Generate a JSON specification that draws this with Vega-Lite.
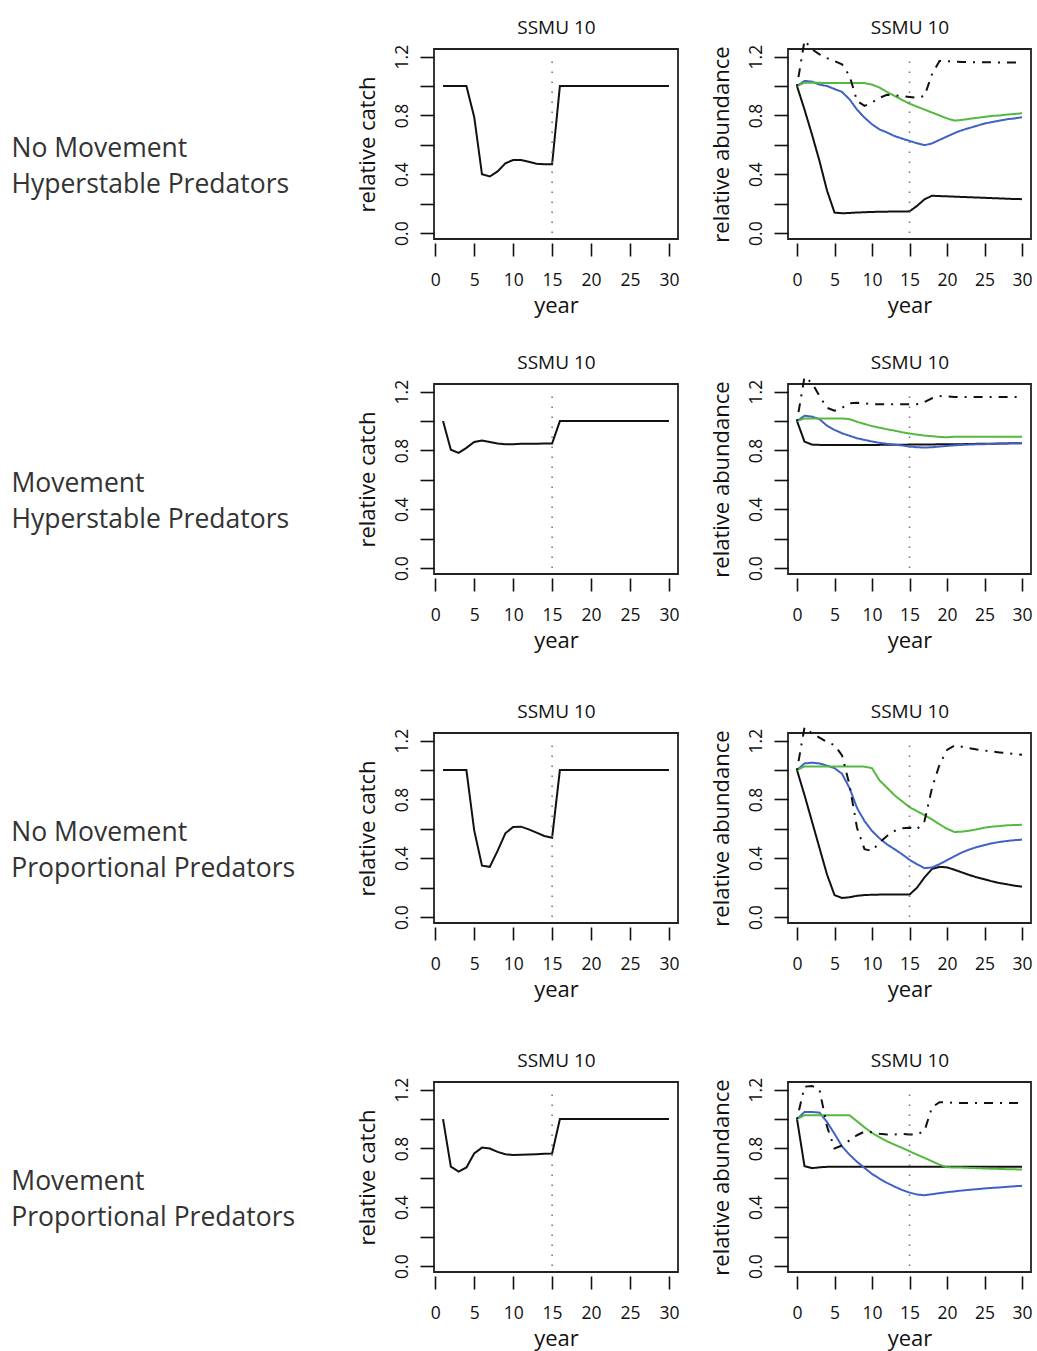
{
 "$schema": "https://vega.github.io/schema/vega-lite/v6.json",
 "padding": {"left": 11, "top": 17, "right": 0, "bottom": 0},
 "background": "white",
 "datasets": {
  "catch": [
   {"row":"r1","year":1,"value":1.0},{"row":"r1","year":2,"value":1.0},{"row":"r1","year":3,"value":1.0},{"row":"r1","year":4,"value":1.0},{"row":"r1","year":5,"value":0.79},{"row":"r1","year":6,"value":0.40},{"row":"r1","year":7,"value":0.385},{"row":"r1","year":8,"value":0.42},{"row":"r1","year":9,"value":0.475},{"row":"r1","year":10,"value":0.497},{"row":"r1","year":11,"value":0.497},{"row":"r1","year":12,"value":0.485},{"row":"r1","year":13,"value":0.472},{"row":"r1","year":14,"value":0.468},{"row":"r1","year":15,"value":0.468},{"row":"r1","year":16,"value":1.0},{"row":"r1","year":17,"value":1.0},{"row":"r1","year":18,"value":1.0},{"row":"r1","year":19,"value":1.0},{"row":"r1","year":20,"value":1.0},{"row":"r1","year":21,"value":1.0},{"row":"r1","year":22,"value":1.0},{"row":"r1","year":23,"value":1.0},{"row":"r1","year":24,"value":1.0},{"row":"r1","year":25,"value":1.0},{"row":"r1","year":26,"value":1.0},{"row":"r1","year":27,"value":1.0},{"row":"r1","year":28,"value":1.0},{"row":"r1","year":29,"value":1.0},{"row":"r1","year":30,"value":1.0},
   {"row":"r2","year":1,"value":1.0},{"row":"r2","year":2,"value":0.805},{"row":"r2","year":3,"value":0.784},{"row":"r2","year":4,"value":0.818},{"row":"r2","year":5,"value":0.858},{"row":"r2","year":6,"value":0.867},{"row":"r2","year":7,"value":0.858},{"row":"r2","year":8,"value":0.848},{"row":"r2","year":9,"value":0.843},{"row":"r2","year":10,"value":0.843},{"row":"r2","year":11,"value":0.845},{"row":"r2","year":12,"value":0.846},{"row":"r2","year":13,"value":0.846},{"row":"r2","year":14,"value":0.847},{"row":"r2","year":15,"value":0.847},{"row":"r2","year":16,"value":1.0},{"row":"r2","year":17,"value":1.0},{"row":"r2","year":18,"value":1.0},{"row":"r2","year":19,"value":1.0},{"row":"r2","year":20,"value":1.0},{"row":"r2","year":21,"value":1.0},{"row":"r2","year":22,"value":1.0},{"row":"r2","year":23,"value":1.0},{"row":"r2","year":24,"value":1.0},{"row":"r2","year":25,"value":1.0},{"row":"r2","year":26,"value":1.0},{"row":"r2","year":27,"value":1.0},{"row":"r2","year":28,"value":1.0},{"row":"r2","year":29,"value":1.0},{"row":"r2","year":30,"value":1.0},
   {"row":"r3","year":1,"value":1.0},{"row":"r3","year":2,"value":1.0},{"row":"r3","year":3,"value":1.0},{"row":"r3","year":4,"value":1.0},{"row":"r3","year":5,"value":0.59},{"row":"r3","year":6,"value":0.35},{"row":"r3","year":7,"value":0.342},{"row":"r3","year":8,"value":0.45},{"row":"r3","year":9,"value":0.57},{"row":"r3","year":10,"value":0.613},{"row":"r3","year":11,"value":0.615},{"row":"r3","year":12,"value":0.597},{"row":"r3","year":13,"value":0.574},{"row":"r3","year":14,"value":0.552},{"row":"r3","year":15,"value":0.54},{"row":"r3","year":16,"value":1.0},{"row":"r3","year":17,"value":1.0},{"row":"r3","year":18,"value":1.0},{"row":"r3","year":19,"value":1.0},{"row":"r3","year":20,"value":1.0},{"row":"r3","year":21,"value":1.0},{"row":"r3","year":22,"value":1.0},{"row":"r3","year":23,"value":1.0},{"row":"r3","year":24,"value":1.0},{"row":"r3","year":25,"value":1.0},{"row":"r3","year":26,"value":1.0},{"row":"r3","year":27,"value":1.0},{"row":"r3","year":28,"value":1.0},{"row":"r3","year":29,"value":1.0},{"row":"r3","year":30,"value":1.0},
   {"row":"r4","year":1,"value":1.0},{"row":"r4","year":2,"value":0.676},{"row":"r4","year":3,"value":0.642},{"row":"r4","year":4,"value":0.671},{"row":"r4","year":5,"value":0.766},{"row":"r4","year":6,"value":0.806},{"row":"r4","year":7,"value":0.80},{"row":"r4","year":8,"value":0.777},{"row":"r4","year":9,"value":0.761},{"row":"r4","year":10,"value":0.755},{"row":"r4","year":11,"value":0.757},{"row":"r4","year":12,"value":0.759},{"row":"r4","year":13,"value":0.761},{"row":"r4","year":14,"value":0.764},{"row":"r4","year":15,"value":0.766},{"row":"r4","year":16,"value":1.0},{"row":"r4","year":17,"value":1.0},{"row":"r4","year":18,"value":1.0},{"row":"r4","year":19,"value":1.0},{"row":"r4","year":20,"value":1.0},{"row":"r4","year":21,"value":1.0},{"row":"r4","year":22,"value":1.0},{"row":"r4","year":23,"value":1.0},{"row":"r4","year":24,"value":1.0},{"row":"r4","year":25,"value":1.0},{"row":"r4","year":26,"value":1.0},{"row":"r4","year":27,"value":1.0},{"row":"r4","year":28,"value":1.0},{"row":"r4","year":29,"value":1.0},{"row":"r4","year":30,"value":1.0}
  ],
  "abund": [
   {"row":"r1","year":0,"s1":1.0,"s2":1.0,"s3":1.0,"s4":1.0},
   {"row":"r1","year":1,"s1":0.84,"s2":1.035,"s3":1.023,"s4":1.31},
   {"row":"r1","year":2,"s1":0.67,"s2":1.03,"s3":1.023,"s4":1.25},
   {"row":"r1","year":3,"s1":0.49,"s2":1.01,"s3":1.022,"s4":1.216},
   {"row":"r1","year":4,"s1":0.29,"s2":1.0,"s3":1.021,"s4":1.19},
   {"row":"r1","year":5,"s1":0.14,"s2":0.98,"s3":1.021,"s4":1.17},
   {"row":"r1","year":6,"s1":0.135,"s2":0.96,"s3":1.02,"s4":1.148},
   {"row":"r1","year":7,"s1":0.137,"s2":0.91,"s3":1.02,"s4":1.07},
   {"row":"r1","year":8,"s1":0.14,"s2":0.84,"s3":1.02,"s4":0.90},
   {"row":"r1","year":9,"s1":0.142,"s2":0.785,"s3":1.02,"s4":0.865},
   {"row":"r1","year":10,"s1":0.144,"s2":0.74,"s3":1.01,"s4":0.888},
   {"row":"r1","year":11,"s1":0.145,"s2":0.705,"s3":0.99,"s4":0.92},
   {"row":"r1","year":12,"s1":0.146,"s2":0.684,"s3":0.96,"s4":0.94},
   {"row":"r1","year":13,"s1":0.147,"s2":0.66,"s3":0.933,"s4":0.937},
   {"row":"r1","year":14,"s1":0.147,"s2":0.643,"s3":0.906,"s4":0.933},
   {"row":"r1","year":15,"s1":0.148,"s2":0.627,"s3":0.88,"s4":0.926},
   {"row":"r1","year":16,"s1":0.185,"s2":0.611,"s3":0.86,"s4":0.92},
   {"row":"r1","year":17,"s1":0.23,"s2":0.598,"s3":0.84,"s4":0.933},
   {"row":"r1","year":18,"s1":0.254,"s2":0.61,"s3":0.82,"s4":1.08},
   {"row":"r1","year":19,"s1":0.252,"s2":0.634,"s3":0.80,"s4":1.17},
   {"row":"r1","year":20,"s1":0.25,"s2":0.657,"s3":0.78,"s4":1.17},
   {"row":"r1","year":21,"s1":0.248,"s2":0.68,"s3":0.765,"s4":1.166},
   {"row":"r1","year":22,"s1":0.246,"s2":0.70,"s3":0.77,"s4":1.164},
   {"row":"r1","year":23,"s1":0.244,"s2":0.715,"s3":0.777,"s4":1.163},
   {"row":"r1","year":24,"s1":0.242,"s2":0.73,"s3":0.784,"s4":1.162},
   {"row":"r1","year":25,"s1":0.24,"s2":0.745,"s3":0.79,"s4":1.162},
   {"row":"r1","year":26,"s1":0.238,"s2":0.755,"s3":0.797,"s4":1.161},
   {"row":"r1","year":27,"s1":0.236,"s2":0.765,"s3":0.80,"s4":1.16},
   {"row":"r1","year":28,"s1":0.234,"s2":0.774,"s3":0.806,"s4":1.16},
   {"row":"r1","year":29,"s1":0.232,"s2":0.78,"s3":0.81,"s4":1.16},
   {"row":"r1","year":30,"s1":0.231,"s2":0.788,"s3":0.815,"s4":1.16},
   {"row":"r2","year":0,"s1":1.0,"s2":1.0,"s3":1.0,"s4":1.0},
   {"row":"r2","year":1,"s1":0.86,"s2":1.036,"s3":1.018,"s4":1.30},
   {"row":"r2","year":2,"s1":0.84,"s2":1.03,"s3":1.018,"s4":1.26},
   {"row":"r2","year":3,"s1":0.838,"s2":1.013,"s3":1.018,"s4":1.17},
   {"row":"r2","year":4,"s1":0.838,"s2":0.968,"s3":1.018,"s4":1.09},
   {"row":"r2","year":5,"s1":0.838,"s2":0.94,"s3":1.018,"s4":1.07},
   {"row":"r2","year":6,"s1":0.838,"s2":0.917,"s3":1.018,"s4":1.09},
   {"row":"r2","year":7,"s1":0.838,"s2":0.90,"s3":1.013,"s4":1.12},
   {"row":"r2","year":8,"s1":0.838,"s2":0.883,"s3":0.995,"s4":1.125},
   {"row":"r2","year":9,"s1":0.838,"s2":0.872,"s3":0.98,"s4":1.12},
   {"row":"r2","year":10,"s1":0.838,"s2":0.861,"s3":0.966,"s4":1.115},
   {"row":"r2","year":11,"s1":0.838,"s2":0.852,"s3":0.955,"s4":1.115},
   {"row":"r2","year":12,"s1":0.839,"s2":0.845,"s3":0.944,"s4":1.115},
   {"row":"r2","year":13,"s1":0.839,"s2":0.84,"s3":0.935,"s4":1.115},
   {"row":"r2","year":14,"s1":0.839,"s2":0.834,"s3":0.924,"s4":1.115},
   {"row":"r2","year":15,"s1":0.84,"s2":0.827,"s3":0.915,"s4":1.115},
   {"row":"r2","year":16,"s1":0.84,"s2":0.822,"s3":0.908,"s4":1.115},
   {"row":"r2","year":17,"s1":0.84,"s2":0.82,"s3":0.901,"s4":1.13},
   {"row":"r2","year":18,"s1":0.841,"s2":0.822,"s3":0.897,"s4":1.155},
   {"row":"r2","year":19,"s1":0.842,"s2":0.827,"s3":0.892,"s4":1.17},
   {"row":"r2","year":20,"s1":0.842,"s2":0.831,"s3":0.89,"s4":1.168},
   {"row":"r2","year":21,"s1":0.843,"s2":0.835,"s3":0.893,"s4":1.164},
   {"row":"r2","year":22,"s1":0.843,"s2":0.838,"s3":0.894,"s4":1.163},
   {"row":"r2","year":23,"s1":0.844,"s2":0.84,"s3":0.894,"s4":1.163},
   {"row":"r2","year":24,"s1":0.845,"s2":0.842,"s3":0.894,"s4":1.163},
   {"row":"r2","year":25,"s1":0.845,"s2":0.843,"s3":0.894,"s4":1.163},
   {"row":"r2","year":26,"s1":0.846,"s2":0.845,"s3":0.894,"s4":1.163},
   {"row":"r2","year":27,"s1":0.847,"s2":0.846,"s3":0.894,"s4":1.163},
   {"row":"r2","year":28,"s1":0.848,"s2":0.848,"s3":0.894,"s4":1.163},
   {"row":"r2","year":29,"s1":0.849,"s2":0.849,"s3":0.894,"s4":1.163},
   {"row":"r2","year":30,"s1":0.85,"s2":0.85,"s3":0.894,"s4":1.163},
   {"row":"r3","year":0,"s1":1.0,"s2":1.0,"s3":1.0,"s4":1.0},
   {"row":"r3","year":1,"s1":0.83,"s2":1.045,"s3":1.025,"s4":1.29},
   {"row":"r3","year":2,"s1":0.65,"s2":1.05,"s3":1.025,"s4":1.25},
   {"row":"r3","year":3,"s1":0.47,"s2":1.045,"s3":1.025,"s4":1.22},
   {"row":"r3","year":4,"s1":0.29,"s2":1.03,"s3":1.025,"s4":1.19},
   {"row":"r3","year":5,"s1":0.15,"s2":1.013,"s3":1.025,"s4":1.17},
   {"row":"r3","year":6,"s1":0.13,"s2":0.975,"s3":1.025,"s4":1.10},
   {"row":"r3","year":7,"s1":0.135,"s2":0.878,"s3":1.025,"s4":0.90},
   {"row":"r3","year":8,"s1":0.145,"s2":0.743,"s3":1.025,"s4":0.608},
   {"row":"r3","year":9,"s1":0.15,"s2":0.653,"s3":1.023,"s4":0.462},
   {"row":"r3","year":10,"s1":0.152,"s2":0.586,"s3":1.013,"s4":0.45},
   {"row":"r3","year":11,"s1":0.153,"s2":0.536,"s3":0.93,"s4":0.507},
   {"row":"r3","year":12,"s1":0.153,"s2":0.495,"s3":0.88,"s4":0.552},
   {"row":"r3","year":13,"s1":0.153,"s2":0.462,"s3":0.829,"s4":0.586},
   {"row":"r3","year":14,"s1":0.153,"s2":0.428,"s3":0.788,"s4":0.604},
   {"row":"r3","year":15,"s1":0.153,"s2":0.39,"s3":0.748,"s4":0.608},
   {"row":"r3","year":16,"s1":0.20,"s2":0.36,"s3":0.72,"s4":0.597},
   {"row":"r3","year":17,"s1":0.27,"s2":0.333,"s3":0.694,"s4":0.653},
   {"row":"r3","year":18,"s1":0.327,"s2":0.338,"s3":0.664,"s4":0.878},
   {"row":"r3","year":19,"s1":0.342,"s2":0.36,"s3":0.631,"s4":1.036},
   {"row":"r3","year":20,"s1":0.338,"s2":0.387,"s3":0.601,"s4":1.137},
   {"row":"r3","year":21,"s1":0.322,"s2":0.414,"s3":0.579,"s4":1.167},
   {"row":"r3","year":22,"s1":0.304,"s2":0.44,"s3":0.581,"s4":1.158},
   {"row":"r3","year":23,"s1":0.286,"s2":0.46,"s3":0.588,"s4":1.149},
   {"row":"r3","year":24,"s1":0.27,"s2":0.477,"s3":0.597,"s4":1.14},
   {"row":"r3","year":25,"s1":0.257,"s2":0.49,"s3":0.608,"s4":1.133},
   {"row":"r3","year":26,"s1":0.243,"s2":0.502,"s3":0.615,"s4":1.126},
   {"row":"r3","year":27,"s1":0.232,"s2":0.511,"s3":0.619,"s4":1.12},
   {"row":"r3","year":28,"s1":0.223,"s2":0.518,"s3":0.624,"s4":1.115},
   {"row":"r3","year":29,"s1":0.214,"s2":0.523,"s3":0.626,"s4":1.11},
   {"row":"r3","year":30,"s1":0.207,"s2":0.527,"s3":0.628,"s4":1.104},
   {"row":"r4","year":0,"s1":1.0,"s2":1.0,"s3":1.0,"s4":1.0},
   {"row":"r4","year":1,"s1":0.68,"s2":1.048,"s3":1.026,"s4":1.22},
   {"row":"r4","year":2,"s1":0.666,"s2":1.048,"s3":1.026,"s4":1.225},
   {"row":"r4","year":3,"s1":0.672,"s2":1.044,"s3":1.026,"s4":1.20},
   {"row":"r4","year":4,"s1":0.675,"s2":0.98,"s3":1.026,"s4":0.95},
   {"row":"r4","year":5,"s1":0.675,"s2":0.90,"s3":1.026,"s4":0.80},
   {"row":"r4","year":6,"s1":0.675,"s2":0.815,"s3":1.026,"s4":0.82},
   {"row":"r4","year":7,"s1":0.675,"s2":0.758,"s3":1.026,"s4":0.855},
   {"row":"r4","year":8,"s1":0.675,"s2":0.709,"s3":0.985,"s4":0.89},
   {"row":"r4","year":9,"s1":0.675,"s2":0.668,"s3":0.944,"s4":0.915},
   {"row":"r4","year":10,"s1":0.675,"s2":0.627,"s3":0.906,"s4":0.91},
   {"row":"r4","year":11,"s1":0.675,"s2":0.595,"s3":0.876,"s4":0.90},
   {"row":"r4","year":12,"s1":0.675,"s2":0.566,"s3":0.849,"s4":0.895},
   {"row":"r4","year":13,"s1":0.675,"s2":0.541,"s3":0.826,"s4":0.895},
   {"row":"r4","year":14,"s1":0.675,"s2":0.518,"s3":0.804,"s4":0.90},
   {"row":"r4","year":15,"s1":0.675,"s2":0.50,"s3":0.781,"s4":0.895},
   {"row":"r4","year":16,"s1":0.675,"s2":0.487,"s3":0.758,"s4":0.895},
   {"row":"r4","year":17,"s1":0.675,"s2":0.482,"s3":0.736,"s4":0.92},
   {"row":"r4","year":18,"s1":0.675,"s2":0.489,"s3":0.713,"s4":1.08},
   {"row":"r4","year":19,"s1":0.675,"s2":0.496,"s3":0.69,"s4":1.115},
   {"row":"r4","year":20,"s1":0.675,"s2":0.503,"s3":0.672,"s4":1.115},
   {"row":"r4","year":21,"s1":0.675,"s2":0.508,"s3":0.671,"s4":1.11},
   {"row":"r4","year":22,"s1":0.675,"s2":0.514,"s3":0.67,"s4":1.11},
   {"row":"r4","year":23,"s1":0.675,"s2":0.519,"s3":0.668,"s4":1.11},
   {"row":"r4","year":24,"s1":0.675,"s2":0.523,"s3":0.666,"s4":1.11},
   {"row":"r4","year":25,"s1":0.675,"s2":0.528,"s3":0.664,"s4":1.11},
   {"row":"r4","year":26,"s1":0.675,"s2":0.532,"s3":0.662,"s4":1.11},
   {"row":"r4","year":27,"s1":0.675,"s2":0.535,"s3":0.661,"s4":1.11},
   {"row":"r4","year":28,"s1":0.675,"s2":0.539,"s3":0.659,"s4":1.11},
   {"row":"r4","year":29,"s1":0.675,"s2":0.543,"s3":0.658,"s4":1.11},
   {"row":"r4","year":30,"s1":0.675,"s2":0.546,"s3":0.657,"s4":1.11}
  ],
  "marker": [{"label": "year 15"}]
 },
 "config": {
  "font": "Open Sans",
  "view": {"stroke": "#222", "strokeWidth": 1.8},
  "axis": {"grid": false, "domain": false, "tickColor": "#111", "tickWidth": 1.6, "labelFont": "Open Sans", "labelFontSize": 17.5, "labelColor": "#111", "labelFlush": false, "labelOverlap": false, "titleFont": "Open Sans", "titleFontSize": 22, "titleFontWeight": "normal", "titleColor": "#111"},
  "axisX": {"tickSize": 13, "offset": 4, "labelPadding": 15, "titlePadding": 7},
  "axisY": {"tickSize": 14, "labelAngle": -90, "labelAlign": "center", "labelBaseline": "bottom", "labelPadding": 9, "titlePadding": 14},
  "title": {"font": "Open Sans", "fontSize": 26.5, "fontWeight": "normal", "color": "#333"}
 },
 "spacing": 34,
 "vconcat": [
  {
   "title": {"text": ["No Movement", "Hyperstable Predators"], "orient": "left", "angle": 0, "align": "left", "baseline": "middle", "anchor": "middle", "offset": 66, "lineHeight": 36, "dy": -18},
   "spacing": 29,
   "hconcat": [
    {
     "width": 244, "height": 190,
     "layer": [
      {"data": {"name": "catch"}, "transform": [{"filter": "datum.row === 'r1'"}],
       "mark": {"type": "line", "color": "#111", "strokeWidth": 2},
       "encoding": {
        "x": {"field": "year", "type": "quantitative", "scale": {"domain": [-0.16, 31.16], "nice": false, "zero": false}, "axis": {"values": [0,5,10,15,20,25,30], "format": "d", "title": "year"}},
        "y": {"field": "value", "type": "quantitative", "scale": {"domain": [-0.04, 1.252], "nice": false, "zero": false}, "axis": {"values": [0,0.2,0.4,0.6,0.8,1,1.2], "labelExpr": "round(datum.value*10) % 4 === 0 ? format(datum.value, '.1f') : ''", "title": "relative catch"}}
       }},
      {"data": {"name": "marker"},
       "mark": {"type": "rule", "color": "#777", "strokeWidth": 1.6, "strokeDash": [1.6, 8.4]},
       "encoding": {
        "x": {"datum": 15, "type": "quantitative", "scale": {"domain": [-0.16, 31.16], "nice": false, "zero": false}, "axis": {"orient": "top", "title": "SSMU 10", "labels": false, "ticks": false, "offset": 0, "titlePadding": 12, "titleFontSize": 19}},
        "y": {"datum": 0, "type": "quantitative", "scale": {"domain": [-0.04, 1.252], "nice": false, "zero": false}, "axis": {"values": [0,0.2,0.4,0.6,0.8,1,1.2], "labelExpr": "round(datum.value*10) % 4 === 0 ? format(datum.value, '.1f') : ''", "title": "relative catch"}},
        "y2": {"datum": 1.2}
       }}
     ],
     "resolve": {"axis": {"x": "independent"}}
    },
    {
     "width": 243, "height": 190,
     "layer": [
      {"data": {"name": "abund"}, "transform": [{"filter": "datum.row === 'r1'"}, {"fold": ["s1","s2","s3","s4"], "as": ["series", "value"]}],
       "mark": {"type": "line", "strokeWidth": 2},
       "encoding": {
        "x": {"field": "year", "type": "quantitative", "scale": {"domain": [-1.2, 31.2], "nice": false, "zero": false}, "axis": {"values": [0,5,10,15,20,25,30], "format": "d", "title": "year"}},
        "y": {"field": "value", "type": "quantitative", "scale": {"domain": [-0.04, 1.252], "nice": false, "zero": false}, "axis": {"values": [0,0.2,0.4,0.6,0.8,1,1.2], "labelExpr": "round(datum.value*10) % 4 === 0 ? format(datum.value, '.1f') : ''", "title": "relative abundance"}},
        "color": {"field": "series", "type": "nominal", "scale": {"domain": ["s1","s2","s3","s4"], "range": ["#111111","#3f62c4","#55b840","#111111"]}, "legend": null},
        "strokeDash": {"field": "series", "type": "nominal", "scale": {"domain": ["s1","s2","s3","s4"], "range": [[1,0],[1,0],[1,0],[2,7,9,7]]}, "legend": null}
       }},
      {"data": {"name": "marker"},
       "mark": {"type": "rule", "color": "#777", "strokeWidth": 1.6, "strokeDash": [1.6, 8.4]},
       "encoding": {
        "x": {"datum": 15, "type": "quantitative", "scale": {"domain": [-1.2, 31.2], "nice": false, "zero": false}, "axis": {"orient": "top", "title": "SSMU 10", "labels": false, "ticks": false, "offset": 0, "titlePadding": 12, "titleFontSize": 19}},
        "y": {"datum": 0, "type": "quantitative", "scale": {"domain": [-0.04, 1.252], "nice": false, "zero": false}, "axis": {"values": [0,0.2,0.4,0.6,0.8,1,1.2], "labelExpr": "round(datum.value*10) % 4 === 0 ? format(datum.value, '.1f') : ''", "title": "relative abundance"}},
        "y2": {"datum": 1.2}
       }}
     ],
     "resolve": {"axis": {"x": "independent"}}
    }
   ]
  },
  {
   "spacing": 48,
   "vconcat": [
    {
     "title": {"text": ["Movement", "Hyperstable Predators"], "orient": "left", "angle": 0, "align": "left", "baseline": "middle", "anchor": "middle", "offset": 66, "lineHeight": 36, "dy": -18},
     "spacing": 29,
     "hconcat": [
      {
       "width": 244, "height": 190,
       "layer": [
        {"data": {"name": "catch"}, "transform": [{"filter": "datum.row === 'r2'"}],
         "mark": {"type": "line", "color": "#111", "strokeWidth": 2},
         "encoding": {
          "x": {"field": "year", "type": "quantitative", "scale": {"domain": [-0.16, 31.16], "nice": false, "zero": false}, "axis": {"values": [0,5,10,15,20,25,30], "format": "d", "title": "year"}},
          "y": {"field": "value", "type": "quantitative", "scale": {"domain": [-0.04, 1.252], "nice": false, "zero": false}, "axis": {"values": [0,0.2,0.4,0.6,0.8,1,1.2], "labelExpr": "round(datum.value*10) % 4 === 0 ? format(datum.value, '.1f') : ''", "title": "relative catch"}}
         }},
        {"data": {"name": "marker"},
         "mark": {"type": "rule", "color": "#777", "strokeWidth": 1.6, "strokeDash": [1.6, 8.4]},
         "encoding": {
          "x": {"datum": 15, "type": "quantitative", "scale": {"domain": [-0.16, 31.16], "nice": false, "zero": false}, "axis": {"orient": "top", "title": "SSMU 10", "labels": false, "ticks": false, "offset": 0, "titlePadding": 12, "titleFontSize": 19}},
          "y": {"datum": 0, "type": "quantitative", "scale": {"domain": [-0.04, 1.252], "nice": false, "zero": false}, "axis": {"values": [0,0.2,0.4,0.6,0.8,1,1.2], "labelExpr": "round(datum.value*10) % 4 === 0 ? format(datum.value, '.1f') : ''", "title": "relative catch"}},
          "y2": {"datum": 1.2}
         }}
       ],
       "resolve": {"axis": {"x": "independent"}}
      },
      {
       "width": 243, "height": 190,
       "layer": [
        {"data": {"name": "abund"}, "transform": [{"filter": "datum.row === 'r2'"}, {"fold": ["s1","s2","s3","s4"], "as": ["series", "value"]}],
         "mark": {"type": "line", "strokeWidth": 2},
         "encoding": {
          "x": {"field": "year", "type": "quantitative", "scale": {"domain": [-1.2, 31.2], "nice": false, "zero": false}, "axis": {"values": [0,5,10,15,20,25,30], "format": "d", "title": "year"}},
          "y": {"field": "value", "type": "quantitative", "scale": {"domain": [-0.04, 1.252], "nice": false, "zero": false}, "axis": {"values": [0,0.2,0.4,0.6,0.8,1,1.2], "labelExpr": "round(datum.value*10) % 4 === 0 ? format(datum.value, '.1f') : ''", "title": "relative abundance"}},
          "color": {"field": "series", "type": "nominal", "scale": {"domain": ["s1","s2","s3","s4"], "range": ["#111111","#3f62c4","#55b840","#111111"]}, "legend": null},
          "strokeDash": {"field": "series", "type": "nominal", "scale": {"domain": ["s1","s2","s3","s4"], "range": [[1,0],[1,0],[1,0],[2,7,9,7]]}, "legend": null}
         }},
        {"data": {"name": "marker"},
         "mark": {"type": "rule", "color": "#777", "strokeWidth": 1.6, "strokeDash": [1.6, 8.4]},
         "encoding": {
          "x": {"datum": 15, "type": "quantitative", "scale": {"domain": [-1.2, 31.2], "nice": false, "zero": false}, "axis": {"orient": "top", "title": "SSMU 10", "labels": false, "ticks": false, "offset": 0, "titlePadding": 12, "titleFontSize": 19}},
          "y": {"datum": 0, "type": "quantitative", "scale": {"domain": [-0.04, 1.252], "nice": false, "zero": false}, "axis": {"values": [0,0.2,0.4,0.6,0.8,1,1.2], "labelExpr": "round(datum.value*10) % 4 === 0 ? format(datum.value, '.1f') : ''", "title": "relative abundance"}},
          "y2": {"datum": 1.2}
         }}
       ],
       "resolve": {"axis": {"x": "independent"}}
      }
     ]
    },
    {
     "title": {"text": ["No Movement", "Proportional Predators"], "orient": "left", "angle": 0, "align": "left", "baseline": "middle", "anchor": "middle", "offset": 60, "lineHeight": 36, "dy": -18},
     "spacing": 29,
     "hconcat": [
      {
       "width": 244, "height": 190,
       "layer": [
        {"data": {"name": "catch"}, "transform": [{"filter": "datum.row === 'r3'"}],
         "mark": {"type": "line", "color": "#111", "strokeWidth": 2},
         "encoding": {
          "x": {"field": "year", "type": "quantitative", "scale": {"domain": [-0.16, 31.16], "nice": false, "zero": false}, "axis": {"values": [0,5,10,15,20,25,30], "format": "d", "title": "year"}},
          "y": {"field": "value", "type": "quantitative", "scale": {"domain": [-0.04, 1.252], "nice": false, "zero": false}, "axis": {"values": [0,0.2,0.4,0.6,0.8,1,1.2], "labelExpr": "round(datum.value*10) % 4 === 0 ? format(datum.value, '.1f') : ''", "title": "relative catch"}}
         }},
        {"data": {"name": "marker"},
         "mark": {"type": "rule", "color": "#777", "strokeWidth": 1.6, "strokeDash": [1.6, 8.4]},
         "encoding": {
          "x": {"datum": 15, "type": "quantitative", "scale": {"domain": [-0.16, 31.16], "nice": false, "zero": false}, "axis": {"orient": "top", "title": "SSMU 10", "labels": false, "ticks": false, "offset": 0, "titlePadding": 12, "titleFontSize": 19}},
          "y": {"datum": 0, "type": "quantitative", "scale": {"domain": [-0.04, 1.252], "nice": false, "zero": false}, "axis": {"values": [0,0.2,0.4,0.6,0.8,1,1.2], "labelExpr": "round(datum.value*10) % 4 === 0 ? format(datum.value, '.1f') : ''", "title": "relative catch"}},
          "y2": {"datum": 1.2}
         }}
       ],
       "resolve": {"axis": {"x": "independent"}}
      },
      {
       "width": 243, "height": 190,
       "layer": [
        {"data": {"name": "abund"}, "transform": [{"filter": "datum.row === 'r3'"}, {"fold": ["s1","s2","s3","s4"], "as": ["series", "value"]}],
         "mark": {"type": "line", "strokeWidth": 2},
         "encoding": {
          "x": {"field": "year", "type": "quantitative", "scale": {"domain": [-1.2, 31.2], "nice": false, "zero": false}, "axis": {"values": [0,5,10,15,20,25,30], "format": "d", "title": "year"}},
          "y": {"field": "value", "type": "quantitative", "scale": {"domain": [-0.04, 1.252], "nice": false, "zero": false}, "axis": {"values": [0,0.2,0.4,0.6,0.8,1,1.2], "labelExpr": "round(datum.value*10) % 4 === 0 ? format(datum.value, '.1f') : ''", "title": "relative abundance"}},
          "color": {"field": "series", "type": "nominal", "scale": {"domain": ["s1","s2","s3","s4"], "range": ["#111111","#3f62c4","#55b840","#111111"]}, "legend": null},
          "strokeDash": {"field": "series", "type": "nominal", "scale": {"domain": ["s1","s2","s3","s4"], "range": [[1,0],[1,0],[1,0],[2,7,9,7]]}, "legend": null}
         }},
        {"data": {"name": "marker"},
         "mark": {"type": "rule", "color": "#777", "strokeWidth": 1.6, "strokeDash": [1.6, 8.4]},
         "encoding": {
          "x": {"datum": 15, "type": "quantitative", "scale": {"domain": [-1.2, 31.2], "nice": false, "zero": false}, "axis": {"orient": "top", "title": "SSMU 10", "labels": false, "ticks": false, "offset": 0, "titlePadding": 12, "titleFontSize": 19}},
          "y": {"datum": 0, "type": "quantitative", "scale": {"domain": [-0.04, 1.252], "nice": false, "zero": false}, "axis": {"values": [0,0.2,0.4,0.6,0.8,1,1.2], "labelExpr": "round(datum.value*10) % 4 === 0 ? format(datum.value, '.1f') : ''", "title": "relative abundance"}},
          "y2": {"datum": 1.2}
         }}
       ],
       "resolve": {"axis": {"x": "independent"}}
      }
     ]
    },
    {
     "title": {"text": ["Movement", "Proportional Predators"], "orient": "left", "angle": 0, "align": "left", "baseline": "middle", "anchor": "middle", "offset": 60, "lineHeight": 36, "dy": -18},
     "spacing": 29,
     "hconcat": [
      {
       "width": 244, "height": 190,
       "layer": [
        {"data": {"name": "catch"}, "transform": [{"filter": "datum.row === 'r4'"}],
         "mark": {"type": "line", "color": "#111", "strokeWidth": 2},
         "encoding": {
          "x": {"field": "year", "type": "quantitative", "scale": {"domain": [-0.16, 31.16], "nice": false, "zero": false}, "axis": {"values": [0,5,10,15,20,25,30], "format": "d", "title": "year"}},
          "y": {"field": "value", "type": "quantitative", "scale": {"domain": [-0.04, 1.252], "nice": false, "zero": false}, "axis": {"values": [0,0.2,0.4,0.6,0.8,1,1.2], "labelExpr": "round(datum.value*10) % 4 === 0 ? format(datum.value, '.1f') : ''", "title": "relative catch"}}
         }},
        {"data": {"name": "marker"},
         "mark": {"type": "rule", "color": "#777", "strokeWidth": 1.6, "strokeDash": [1.6, 8.4]},
         "encoding": {
          "x": {"datum": 15, "type": "quantitative", "scale": {"domain": [-0.16, 31.16], "nice": false, "zero": false}, "axis": {"orient": "top", "title": "SSMU 10", "labels": false, "ticks": false, "offset": 0, "titlePadding": 12, "titleFontSize": 19}},
          "y": {"datum": 0, "type": "quantitative", "scale": {"domain": [-0.04, 1.252], "nice": false, "zero": false}, "axis": {"values": [0,0.2,0.4,0.6,0.8,1,1.2], "labelExpr": "round(datum.value*10) % 4 === 0 ? format(datum.value, '.1f') : ''", "title": "relative catch"}},
          "y2": {"datum": 1.2}
         }}
       ],
       "resolve": {"axis": {"x": "independent"}}
      },
      {
       "width": 243, "height": 190,
       "layer": [
        {"data": {"name": "abund"}, "transform": [{"filter": "datum.row === 'r4'"}, {"fold": ["s1","s2","s3","s4"], "as": ["series", "value"]}],
         "mark": {"type": "line", "strokeWidth": 2},
         "encoding": {
          "x": {"field": "year", "type": "quantitative", "scale": {"domain": [-1.2, 31.2], "nice": false, "zero": false}, "axis": {"values": [0,5,10,15,20,25,30], "format": "d", "title": "year"}},
          "y": {"field": "value", "type": "quantitative", "scale": {"domain": [-0.04, 1.252], "nice": false, "zero": false}, "axis": {"values": [0,0.2,0.4,0.6,0.8,1,1.2], "labelExpr": "round(datum.value*10) % 4 === 0 ? format(datum.value, '.1f') : ''", "title": "relative abundance"}},
          "color": {"field": "series", "type": "nominal", "scale": {"domain": ["s1","s2","s3","s4"], "range": ["#111111","#3f62c4","#55b840","#111111"]}, "legend": null},
          "strokeDash": {"field": "series", "type": "nominal", "scale": {"domain": ["s1","s2","s3","s4"], "range": [[1,0],[1,0],[1,0],[2,7,9,7]]}, "legend": null}
         }},
        {"data": {"name": "marker"},
         "mark": {"type": "rule", "color": "#777", "strokeWidth": 1.6, "strokeDash": [1.6, 8.4]},
         "encoding": {
          "x": {"datum": 15, "type": "quantitative", "scale": {"domain": [-1.2, 31.2], "nice": false, "zero": false}, "axis": {"orient": "top", "title": "SSMU 10", "labels": false, "ticks": false, "offset": 0, "titlePadding": 12, "titleFontSize": 19}},
          "y": {"datum": 0, "type": "quantitative", "scale": {"domain": [-0.04, 1.252], "nice": false, "zero": false}, "axis": {"values": [0,0.2,0.4,0.6,0.8,1,1.2], "labelExpr": "round(datum.value*10) % 4 === 0 ? format(datum.value, '.1f') : ''", "title": "relative abundance"}},
          "y2": {"datum": 1.2}
         }}
       ],
       "resolve": {"axis": {"x": "independent"}}
      }
     ]
    }
   ]
  }
 ]
}
